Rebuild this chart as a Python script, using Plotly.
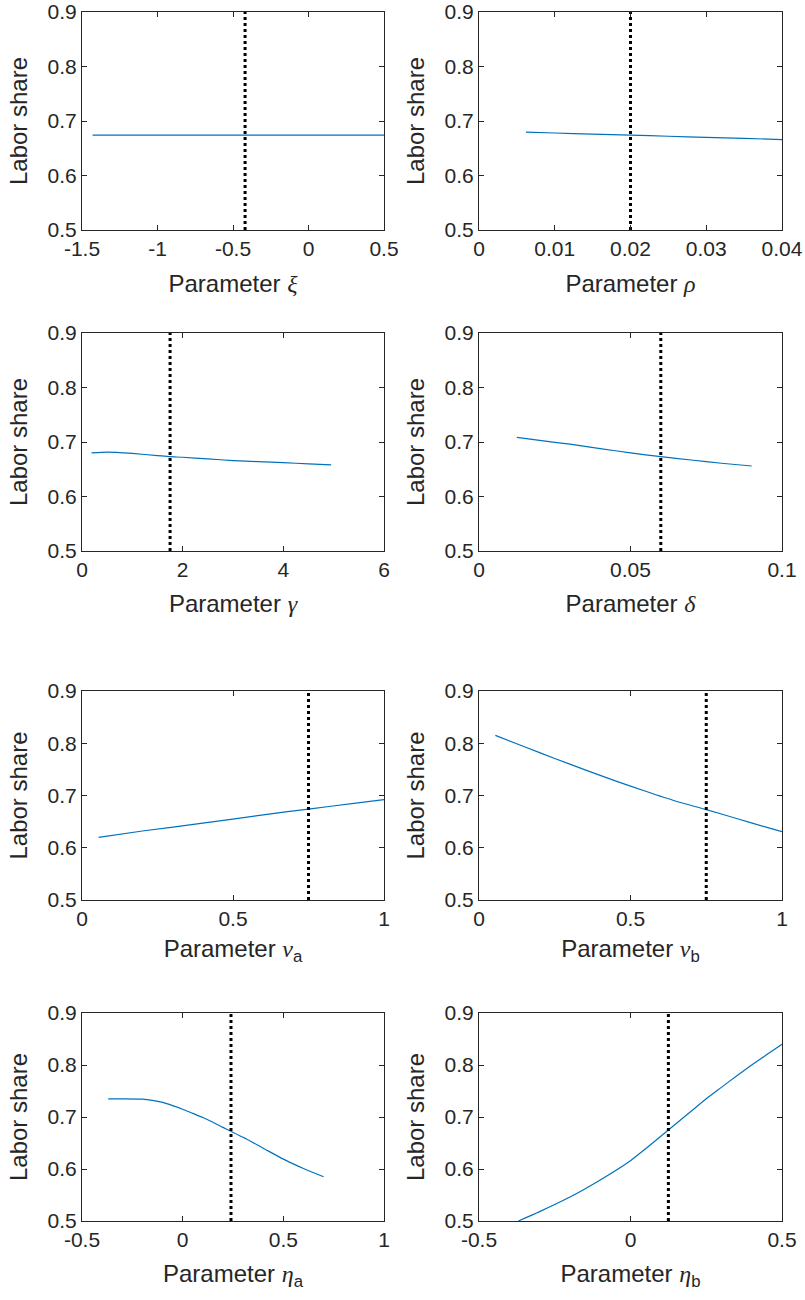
import plotly.graph_objects as go

# ---------------- data ----------------
xi_x = [-1.43, -1.0, -0.5, 0.0, 0.5]
xi_y = [0.674, 0.674, 0.674, 0.674, 0.674]

rho_x = [0.0062, 0.01, 0.015, 0.02, 0.025, 0.03, 0.035, 0.04]
rho_y = [0.6795, 0.678, 0.676, 0.674, 0.672, 0.670, 0.668, 0.666]

gamma_x = [0.19, 0.5, 1.0, 1.5, 1.75, 2.0, 2.5, 3.0, 3.5, 4.0, 4.5, 4.95]
gamma_y = [0.680, 0.6815, 0.679, 0.675, 0.673, 0.672, 0.669, 0.666, 0.664, 0.662, 0.660, 0.658]

delta_x = [0.0125, 0.02, 0.03, 0.04, 0.05, 0.06, 0.07, 0.08, 0.09]
delta_y = [0.7086, 0.703, 0.696, 0.688, 0.680, 0.673, 0.667, 0.661, 0.656]

nua_x = [0.055, 0.2, 0.4, 0.6, 0.75, 0.9, 1.0]
nua_y = [0.620, 0.632, 0.647, 0.663, 0.674, 0.685, 0.692]

nub_x = [0.054, 0.15, 0.25, 0.35, 0.45, 0.55, 0.65, 0.75, 0.85, 0.95, 1.0]
nub_y = [0.815, 0.7934, 0.7709, 0.7491, 0.7281, 0.7081, 0.6891, 0.673, 0.656, 0.639, 0.631]

etaa_x = [-0.37, -0.3, -0.2, -0.15, -0.1, -0.05, 0.0, 0.05, 0.1, 0.15, 0.2, 0.242, 0.3, 0.4, 0.5, 0.6, 0.7]
etaa_y = [0.735, 0.735, 0.7345, 0.732, 0.728, 0.722, 0.715, 0.707, 0.699, 0.690, 0.680, 0.672, 0.661, 0.640, 0.619, 0.601, 0.585]

etab_x = [-0.37, -0.3, -0.2, -0.1, 0.0, 0.05, 0.1, 0.15, 0.2, 0.25, 0.3, 0.35, 0.4, 0.45, 0.5]
etab_y = [0.500, 0.518, 0.546, 0.579, 0.616, 0.639, 0.663, 0.687, 0.711, 0.735, 0.757, 0.779, 0.800, 0.820, 0.840]

# benchmark (calibrated) parameter values -> dotted lines
bench = [-0.42, 0.02, 1.75, 0.06, 0.75, 0.75, 0.24, 0.125]

x_ranges = [[-1.5, 0.5], [0, 0.04], [0, 6], [0, 0.1], [0, 1], [0, 1], [-0.5, 1], [-0.5, 0.5]]
x_tickvals = [[-1.5, -1, -0.5, 0, 0.5], [0, 0.01, 0.02, 0.03, 0.04], [0, 2, 4, 6], [0, 0.05, 0.1],
              [0, 0.5, 1], [0, 0.5, 1], [-0.5, 0, 0.5, 1], [-0.5, 0, 0.5]]
x_ticktext = [["-1.5", "-1", "-0.5", "0", "0.5"], ["0", "0.01", "0.02", "0.03", "0.04"], ["0", "2", "4", "6"],
              ["0", "0.05", "0.1"], ["0", "0.5", "1"], ["0", "0.5", "1"], ["-0.5", "0", "0.5", "1"],
              ["-0.5", "0", "0.5"]]
y_range = [0.5, 0.9]
y_tickvals = [0.5, 0.6, 0.7, 0.8, 0.9]
y_ticktext = ["0.5", "0.6", "0.7", "0.8", "0.9"]

G = "<span style=\"font-family:'Liberation Serif'\"><i>%s</i></span>"
x_labels = ["Parameter " + G % "ξ", "Parameter " + G % "ρ", "Parameter " + G % "γ", "Parameter " + G % "δ",
            "Parameter " + G % "ν" + "<sub>a</sub>", "Parameter " + G % "ν" + "<sub>b</sub>",
            "Parameter " + G % "η" + "<sub>a</sub>", "Parameter " + G % "η" + "<sub>b</sub>"]
y_label = "Labor share"

series = [(xi_x, xi_y), (rho_x, rho_y), (gamma_x, gamma_y), (delta_x, delta_y),
          (nua_x, nua_y), (nub_x, nub_y), (etaa_x, etaa_y), (etab_x, etab_y)]

# ---------------- layout geometry (pixels) ----------------
W, H = 805, 1300
cols = [(82, 384), (479, 782)]
rows = [(12, 230), (333, 551), (691, 900), (1013, 1221)]
title_standoff = [15, 14, 10, 14]

TXT = "#262626"
FONT = "Liberation Sans, Arial, Helvetica, sans-serif"

fig = go.Figure()
layout = {}
for i in range(8):
    r, c = divmod(i, 2)
    n = i + 1
    xa = "x" if n == 1 else f"x{n}"
    ya = "y" if n == 1 else f"y{n}"
    xs, ys = series[i]
    fig.add_trace(go.Scatter(x=xs, y=ys, mode="lines", xaxis=xa, yaxis=ya,
                             line=dict(color="#0072BD", width=1.2, shape="spline", smoothing=0.6),
                             showlegend=False, hoverinfo="skip"))
    fig.add_trace(go.Scatter(x=[bench[i], bench[i]], y=y_range, mode="lines", xaxis=xa, yaxis=ya,
                             line=dict(color="black", width=3, dash="dot"),
                             showlegend=False, hoverinfo="skip"))
    x0, x1 = cols[c]
    y0, y1 = rows[r]
    common = dict(showline=True, linecolor=TXT, linewidth=1, mirror="ticks", ticks="inside",
                  ticklen=5, tickcolor=TXT, tickwidth=1, showgrid=False, zeroline=False,
                  tickfont=dict(family=FONT, size=21, color=TXT), fixedrange=True, automargin=False)
    layout["xaxis" if n == 1 else f"xaxis{n}"] = dict(
        domain=[x0 / W, x1 / W], anchor=ya, range=x_ranges[i],
        tickmode="array", tickvals=x_tickvals[i], ticktext=x_ticktext[i],
        title=dict(text=x_labels[i], standoff=title_standoff[r], font=dict(family=FONT, size=24, color=TXT)),
        **common)
    layout["yaxis" if n == 1 else f"yaxis{n}"] = dict(
        domain=[1 - y1 / H, 1 - y0 / H], anchor=xa, range=y_range,
        tickmode="array", tickvals=y_tickvals, ticktext=y_ticktext,
        title=dict(text=y_label, standoff=13, font=dict(family=FONT, size=24, color=TXT)),
        **common)

fig.update_layout(width=W, height=H, margin=dict(l=0, r=0, t=0, b=0),
                  paper_bgcolor="white", plot_bgcolor="white", **layout)
fig.write_html("out.html")
